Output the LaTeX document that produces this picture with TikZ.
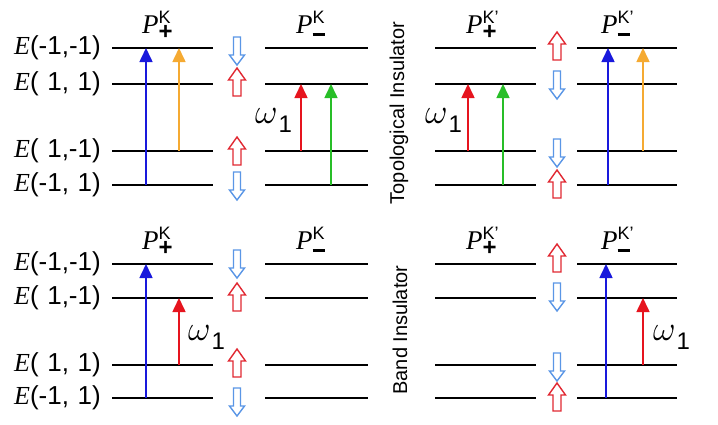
\documentclass[tikz,border=0pt]{standalone}
\usepackage{graphicx}
\usepackage{fontspec}
\setmainfont{Liberation Sans}
\newfontfamily\tnr{Liberation Serif}
\usetikzlibrary{arrows.meta}
\definecolor{tblue}{RGB}{25,25,220}
\definecolor{torange}{RGB}{245,170,50}
\definecolor{tred}{RGB}{230,20,30}
\definecolor{tgreen}{RGB}{40,190,40}
\definecolor{sred}{RGB}{225,40,50}
\definecolor{sblue}{RGB}{90,150,230}
\newcommand{\Elab}[2]{{\fontsize{26}{26}\selectfont{\tnr\itshape E}(#1,#2)}}
\newcommand{\myspc}{\phantom{-}}
\newcommand{\Plab}[2]{{\fontsize{27}{27}\selectfont{\tnr\itshape P}$^{\mbox{\fontsize{18}{18}\selectfont #1}}_{\mbox{\fontsize{24}{24}\selectfont #2}}$}}
\newcommand{\myplus}{\textbf{+}}
\newcommand{\myminus}{\rule[3pt]{12pt}{3.5pt}}
\newcommand{\omlab}{{\fontsize{24.88}{25}\selectfont\scalebox{1.4}{$\omega$}}\kern1pt\raisebox{-9pt}{\fontsize{24}{24}\selectfont 1}}
\tikzset{
  level/.style={line width=2pt, black},
  trans/.style={line width=1.6pt, -{Triangle[width=13pt,length=14pt]}},
  elab/.style={anchor=east, inner sep=0pt},
  plab/.style={anchor=base west, inner sep=0pt},
  olab/.style={anchor=base west, inner sep=0pt},
  side/.style={rotate=90, font=\fontsize{20}{20}\selectfont, inner sep=0pt},
  spinup/.pic={\draw[sred, line width=1.4pt, fill=white] (-4,14) -- (-4,-2) -- (-8.5,-2) -- (0,-14) -- (8.5,-2) -- (4,-2) -- (4,14) -- cycle;},
  spindown/.pic={\draw[sblue, line width=1.4pt, fill=white] (-3.5,-14) -- (-3.5,4) -- (-7.5,4) -- (0,14) -- (7.5,4) -- (3.5,4) -- (3.5,-14) -- cycle;}
}
\begin{document}
\begin{tikzpicture}[x=1pt,y=-1pt]
\path[use as bounding box, fill=white] (0,0) rectangle (718,424);
% level lines
\foreach \y in {48,84,151,185,264,298,365,398}{
  \draw[level] (112,\y) -- (213,\y);
  \draw[level] (265,\y) -- (368,\y);
  \draw[level] (435,\y) -- (536,\y);
  \draw[level] (577,\y) -- (677,\y);
}
% energy labels
\node[elab] (e1) at (101,48) {\Elab{-1}{-1}};
\node[elab] (e2) at (101,84) {\Elab{\myspc1}{\myspc1}};
\node[elab] (e3) at (101,151) {\Elab{\myspc1}{-1}};
\node[elab] (e4) at (101,185) {\Elab{-1}{\myspc1}};
\node[elab] (e5) at (101,264) {\Elab{-1}{-1}};
\node[elab] (e6) at (101,298) {\Elab{\myspc1}{-1}};
\node[elab] (e7) at (101,365) {\Elab{\myspc1}{\myspc1}};
\node[elab] (e8) at (101,398) {\Elab{-1}{\myspc1}};
% P labels
\node[plab] (p1) at (142,33) {\Plab{K}{\myplus}};
\node[plab] (p2) at (296,33) {\Plab{K}{\myminus}};
\node[plab] (p3) at (466,33) {\Plab{K'}{\myplus}};
\node[plab] (p4) at (601,33) {\Plab{K'}{\myminus}};
\node[plab] (p5) at (142,249) {\Plab{K}{\myplus}};
\node[plab] (p6) at (296,249) {\Plab{K}{\myminus}};
\node[plab] (p7) at (466,249) {\Plab{K'}{\myplus}};
\node[plab] (p8) at (601,249) {\Plab{K'}{\myminus}};
% side labels
\node[side] (ti) at (399,113) {Topological Insulator};
\node[side] (bi) at (400,330) {Band Insulator};
% transitions top
\draw[trans, tblue] (146,185) -- (146,48);
\draw[trans, torange] (179,151) -- (179,48);
\draw[trans, tred] (301,151) -- (301,84);
\draw[trans, tgreen] (331,185) -- (331,84);
\draw[trans, tred] (468,151) -- (468,84);
\draw[trans, tgreen] (503,185) -- (503,84);
\draw[trans, tblue] (608,185) -- (608,48);
\draw[trans, torange] (643,151) -- (643,48);
% transitions bottom
\draw[trans, tblue] (146,398) -- (146,264);
\draw[trans, tred] (179,365) -- (179,298);
\draw[trans, tblue] (606,398) -- (606,264);
\draw[trans, tred] (643,365) -- (643,298);
% omega labels
\node[olab] (w1) at (255,123) {\omlab};
\node[olab] (w2) at (425,123) {\omlab};
\node[olab] (w3) at (188,340) {\omlab};
\node[olab] (w4) at (653,340) {\omlab};
% spins
\pic at (237,51) {spindown};
\pic at (237,82) {spinup};
\pic at (237,151) {spinup};
\pic at (237,186) {spindown};
\pic at (557,46) {spinup};
\pic at (557,85) {spindown};
\pic at (557,153) {spindown};
\pic at (557,184) {spinup};
\pic at (237,264) {spindown};
\pic at (237,297) {spinup};
\pic at (237,363) {spinup};
\pic at (237,402) {spindown};
\pic at (557,258) {spinup};
\pic at (557,297) {spindown};
\pic at (557,367) {spindown};
\pic at (557,397) {spinup};
\end{tikzpicture}
\end{document}
